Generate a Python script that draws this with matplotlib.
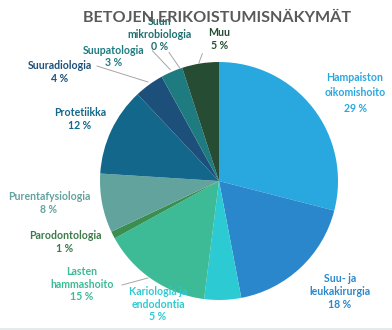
import matplotlib.pyplot as plt

# Specialisation outlook shares (%), clockwise from 12 o'clock
labels = ['Hampaiston\noikomishoito', 'Suu- ja\nleukakirurgia', 'Kariologia ja\nendodontia',
          'Lasten\nhammashoito', 'Parodontologia', 'Purentafysiologia', 'Protetiikka',
          'Suuradiologia', 'Suupatologia', 'Suun\nmikrobiologia', 'Muu']
shares = [29, 18, 5, 15, 1, 8, 12, 4, 3, 0, 5]
colors = ['#29a8e0', '#2b87cc', '#2ccbd4', '#3dba96', '#3a8f50', '#62a39e',
          '#13678a', '#1c4f7a', '#1e7b80', '#1f6e6e', '#264d33']
text_colors = ['#29a8e0', '#2b87cc', '#2ccbd4', '#3dba96', '#3a7a48', '#62a39e',
               '#13678a', '#1c4f7a', '#1e7b80', '#1f6e6e', '#264d33']

# label anchor points in pie-radius units
label_pos = [(1.143, 0.74), (1.017, -0.93), (-0.513, -1.034), (-1.151, -0.866),
             (-1.294, -0.513), (-1.429, -0.185), (-1.168, 0.521), (-1.336, 0.916),
             (-0.882, 1.046), (-0.496, 1.235), (0.005, 1.193)]
line_gap = [1.5, 1.2, 1.2, 1.2, 1.2, 1.2, 1.2, 1.2, 1.2, 1.2, 1.2]

fig = plt.figure(figsize=(3.92, 3.30), dpi=100)
ax = fig.add_axes([0, 0, 1, 1])
cx, cy, r = 219, 181, 119

ax.pie(shares, colors=colors, startangle=90, counterclock=False, radius=1,
       wedgeprops=dict(linewidth=0))
ax.set_xlim(-cx / r, (392 - cx) / r)
ax.set_ylim(-(330 - cy) / r, cy / r)
ax.set_aspect('equal')
ax.axis('off')

for lab, val, (x, y), c, ls in zip(labels, shares, label_pos, text_colors, line_gap):
    ax.text(x, y, f'{lab}\n{val} %', ha='center', va='center', fontsize=7.6,
            fontweight='bold', color=c, family='Lato', linespacing=ls)

# leader lines for the crowded labels
leaders = [((-1.025, 0.966), (-0.597, 0.832)),
           ((-0.56, 1.095), (-0.41, 0.936)),
           ((-0.42, 1.08), (-0.33, 0.95)),
           ((-0.14, 1.07), (-0.17, 0.99)),
           ((-0.815, -0.874), (-0.597, -0.815))]
for (x0, y0), (x1, y1) in leaders:
    ax.plot([x0, x1], [y0, y1], color='#a6a6a6', linewidth=0.7)

fig.text(0.555, 0.945, 'BETOJEN ERIKOISTUMISNÄKYMÄT', ha='center', va='center',
         fontsize=11.6, fontweight='bold', color='#595959', family='Lato')

# thin frame edge at the bottom
fig.add_artist(plt.Line2D([0, 1], [0.003, 0.003], color='#e3ebeb', linewidth=1.5))

fig.savefig('out.png', dpi=100)
